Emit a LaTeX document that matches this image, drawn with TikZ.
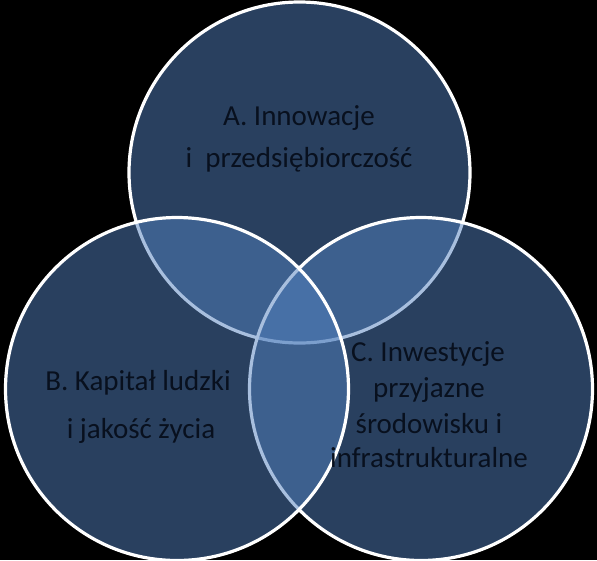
\documentclass[tikz,border=0pt]{standalone}
\usepackage{fontspec}
\setmainfont{Carlito}
\usepackage{tikz}

\definecolor{vennfill}{RGB}{82,128,190}
\definecolor{venntext}{RGB}{8,16,30}
\tikzset{
  setcircle/.style={circle,draw=white,line width=3.2pt,fill=vennfill,fill opacity=0.5,
    minimum size=343pt,inner sep=0pt,outer sep=0pt},
  settext/.style={anchor=base,inner sep=0pt,text=venntext,
    font=\fontsize{29}{35}\selectfont}
}

\begin{document}
\begin{tikzpicture}[x=1pt,y=-1pt]
    % Background
    \fill[black] (0,0) rectangle (597,560);
    \useasboundingbox (0,0) rectangle (597,560);
    % Circles
    \node[setcircle,minimum size=341pt] (setA) at (299.5,172.5) {};
    \node[setcircle] (setC) at (421,389) {};
    \node[setcircle] (setB) at (177,389) {};
    % Labels
    \node[settext] (textA1) at (299,125) {A. Innowacje};
    \node[settext] (textA2) at (299,167) {i\ \ przedsiębiorczość};
    \node[settext] (textB1) at (138,390) {B. Kapitał ludzki};
    \node[settext] (textB2) at (141,438) {i jakość życia};
    \node[settext] (textC1) at (428,361) {C. Inwestycje};
    \node[settext] (textC2) at (429,397) {przyjazne};
    \node[settext] (textC3) at (429,433) {środowisku i};
    \node[settext] (textC4) at (429,467) {infrastrukturalne};
\end{tikzpicture}
\end{document}
